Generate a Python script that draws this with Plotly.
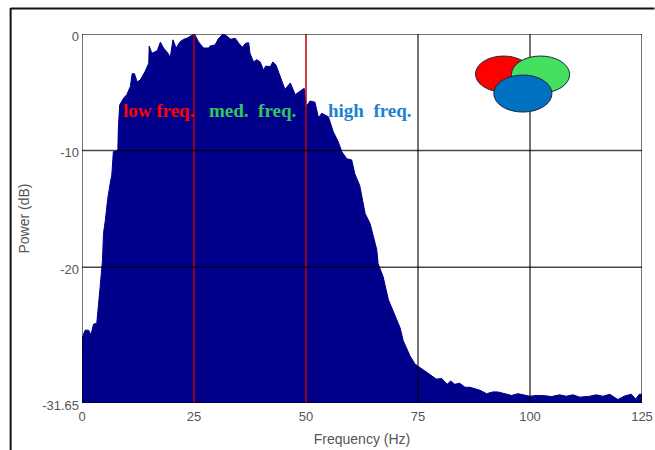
import plotly.graph_objects as go

frequency_hz = [0.0,0.1,0.7,1.45,2.0,2.56,3.3,3.7,4.05,4.57,4.8,5.2,5.75,6.3,6.65,7.0,8.0,8.1,8.4,9.3,10.0,10.8,11.2,11.7,12.3,13.0,14.1,14.9,15.0,15.6,16.8,17.5,18.2,19.1,19.7,20.3,21.0,21.9,22.7,23.4,24.4,25.1,26.0,27.1,28.3,28.6,29.7,30.5,31.5,32.3,33.2,34.2,35.0,35.8,36.5,37.2,37.5,38.3,39.0,39.8,40.5,41.0,42.0,42.6,43.3,44.2,45.3,46.5,47.6,48.5,49.6,50.0,50.9,52.0,52.8,53.5,55.0,56.1,57.2,58.0,59.1,60.2,60.9,62.0,63.2,64.3,65.8,66.1,67.2,68.4,69.9,71.0,71.7,73.2,74.3,75.8,77.3,79.1,80.3,81.5,82.3,83.2,84.3,85.5,86.6,87.7,88.8,90.3,91.7,92.8,94.4,95.9,97.3,98.8,100.0,101.4,103.3,104.8,106.6,108.1,109.6,111.1,113.3,114.8,116.3,117.8,119.6,121.1,122.6,123.6,124.4,125.0]
power_db = [-26.0,-26.0,-25.4,-25.4,-25.8,-24.9,-24.8,-22.8,-21.7,-19.4,-17.1,-16.0,-14.1,-12.8,-12.1,-10.1,-10.0,-8.2,-6.1,-5.5,-5.2,-4.5,-3.4,-3.4,-4.1,-3.95,-3.2,-2.5,-1.03,-1.66,-1.43,-0.7,-1.2,-1.6,-2.0,-0.5,-1.2,-0.66,-0.45,-0.37,-0.17,0.0,-0.66,-1.2,-1.2,-1.03,-0.94,-0.37,0.0,-0.17,-0.45,-0.37,-0.8,-1.14,-0.8,-0.75,-1.66,-2.4,-2.2,-2.4,-3.1,-2.75,-2.8,-2.4,-2.66,-3.66,-4.75,-4.2,-5.2,-4.95,-4.66,-6.24,-5.75,-5.85,-7.2,-6.8,-7.1,-8.4,-9.25,-10.1,-10.7,-10.8,-12.0,-13.0,-15.4,-16.25,-18.5,-19.7,-20.8,-22.8,-24.1,-25.2,-26.3,-27.6,-28.3,-28.7,-29.05,-29.6,-29.55,-30.05,-29.76,-30.05,-29.95,-30.3,-30.3,-30.4,-30.55,-30.85,-30.7,-30.7,-30.85,-31.0,-30.85,-31.0,-31.07,-31.0,-31.02,-31.1,-30.95,-31.07,-30.95,-31.15,-31.07,-30.95,-31.07,-30.9,-31.35,-31.05,-30.9,-31.3,-30.9,-30.9]

x_ticks = [0, 25, 50, 75, 100, 125]
y_ticks = [0, -10, -20, -31.65]
y_tick_labels = ["0", "-10", "-20", "-31.65"]
band_edges = [25, 50]
band_labels = ["low freq.", "med.\u00a0\u00a0freq.", "high\u00a0\u00a0freq."]
band_label_x = [8.9, 28.1, 54.7]
band_colors = ["#ff0000", "#2fc85c", "#1c82d2"]
Y_MIN = -31.65

L, T, PW, PH = 81.5, 34.0, 561.0, 368.7
W, H = 655, 450

def px_x(p):
    return (p - L) / PW * 125
def px_y(p):
    return -(p - T) / PH * 31.65
def paper_x(p):
    return (p - L) / PW
def paper_y(p):
    return 1 - (p - T) / PH

fig = go.Figure()
fig.add_trace(go.Scatter(x=frequency_hz, y=[Y_MIN] * len(frequency_hz), mode="lines",
                         line=dict(width=0), hoverinfo="skip", showlegend=False))
fig.add_trace(go.Scatter(x=frequency_hz, y=power_db, mode="lines", fill="tonexty",
                         fillcolor="#00008b", line=dict(color="#00008b", width=1),
                         showlegend=False))

shapes = []
grid = "rgba(0,0,0,0.72)"
for v in x_ticks:
    c = "#c00000" if v in band_edges else grid
    shapes.append(dict(type="line", xref="x", yref="y", x0=v, x1=v, y0=Y_MIN, y1=0,
                       line=dict(color=c, width=1.5)))
for v in y_ticks:
    shapes.append(dict(type="line", xref="x", yref="y", x0=0, x1=125, y0=v, y1=v,
                       line=dict(color=grid if v != Y_MIN else "#000033", width=1.5)))

ellipses = [
    (475.7, 532, 56, 92, "#ff0000"),
    (511.7, 570, 56, 93, "#44e060"),
    (494, 552.3, 75, 112, "#0070c0"),
]
for x0, x1, y0, y1, c in ellipses:
    shapes.append(dict(type="circle", xref="x", yref="y", x0=px_x(x0), x1=px_x(x1),
                       y0=px_y(y0), y1=px_y(y1), fillcolor=c,
                       line=dict(color="#1a2a3a", width=1)))

shapes.append(dict(type="line", xref="paper", yref="paper", x0=paper_x(10), x1=paper_x(10),
                   y0=paper_y(8), y1=paper_y(450), line=dict(color="#111", width=2)))
shapes.append(dict(type="line", xref="paper", yref="paper", x0=paper_x(10), x1=paper_x(655),
                   y0=paper_y(8.5), y1=paper_y(8.5), line=dict(color="#111", width=2)))

annotations = []
for t, x, c in zip(band_labels, band_label_x, band_colors):
    annotations.append(dict(text="<b>" + t + "</b>", x=x, y=px_y(110), xref="x", yref="y",
                            xanchor="left", xshift=-1, yanchor="middle", showarrow=False,
                            font=dict(family="Liberation Serif", size=19, color=c)))

fig.update_layout(
    width=W, height=H, margin=dict(l=L, r=W - L - PW, t=T, b=H - T - PH, pad=0),
    paper_bgcolor="white", plot_bgcolor="white", showlegend=False,
    font=dict(family="Liberation Sans", size=13, color="#555555"),
    shapes=shapes, annotations=annotations,
    xaxis=dict(range=[0, 125], tickvals=x_ticks, showgrid=False, zeroline=False, showline=False,
               ticks="", ticklabelstandoff=4, automargin=False, ticklabeloverflow="allow",
               title=dict(text="Frequency (Hz)", standoff=11, font=dict(size=14, color="#555555"))),
    yaxis=dict(range=[Y_MIN, 0], tickvals=y_ticks, ticktext=y_tick_labels, showgrid=False,
               zeroline=False, showline=False, ticks="", automargin=False,
               ticklabelshift=2, ticklabelstandoff=2,
               title=dict(text="Power (dB)", standoff=9, font=dict(size=14, color="#555555"))),
)
fig.write_html("out.html", config=dict(displayModeBar=False),
               post_script="document.body.style.margin='0';document.body.style.overflow='hidden';")
